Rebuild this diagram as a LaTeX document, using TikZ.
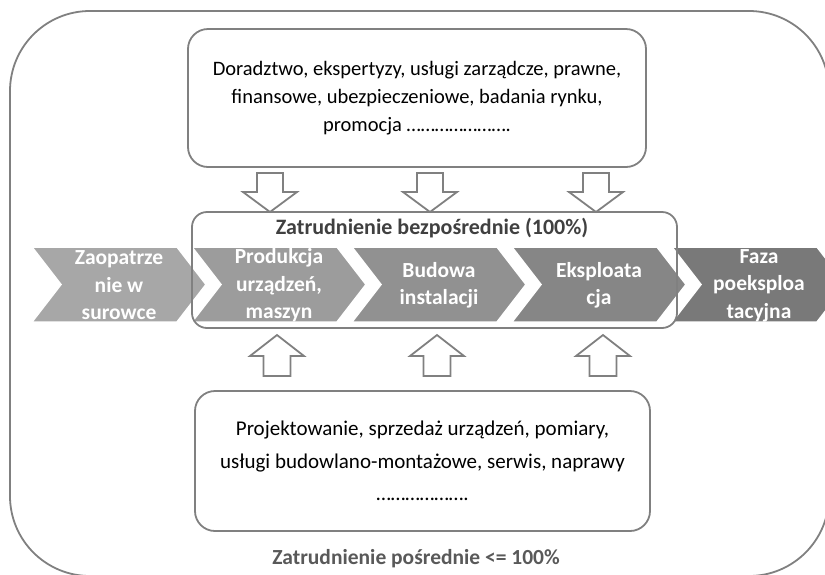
\documentclass[tikz,border=0pt]{standalone}
\usepackage{fontspec}
\setmainfont{Carlito}
\definecolor{linegray}{RGB}{128,128,128}
\definecolor{chevA}{RGB}{167,167,167}
\definecolor{chevB}{RGB}{156,156,156}
\definecolor{chevC}{RGB}{145,145,145}
\definecolor{chevD}{RGB}{134,134,134}
\definecolor{chevE}{RGB}{121,121,121}
\definecolor{labeldark}{RGB}{64,64,64}
\definecolor{labelgray}{RGB}{89,89,89}
\begin{document}
\begin{tikzpicture}[x=1pt, y=-1pt, line width=1.8pt,
    every node/.style={inner sep=0pt, align=center},
    panel/.style={draw=linegray, rounded corners=20pt},
    blockarrow/.style={draw=linegray, fill=white, line join=miter},
    chevtext/.style={text=white, font=\fontsize{21.5}{27.5}\selectfont\bfseries}]
    \useasboundingbox (0,0) rectangle (825,574);
    \clip (0,0) rectangle (825,574);
    % outer frame
    \draw[linegray, rounded corners=80pt] (10,11) rectangle (829,576);
    % top and bottom boxes
    \node[panel, minimum width=458pt, minimum height=138pt, font=\fontsize{20.5}{28}\selectfont] (doradztwo) at (417,98)
        {Doradztwo, ekspertyzy, usługi zarządcze, prawne,\\finansowe, ubezpieczeniowe, badania rynku,\\promocja \dots\dots\dots\dots\dots\dots\dots.};
    \node[panel, minimum width=455pt, minimum height=140pt, font=\fontsize{21}{32.5}\selectfont] (projektowanie) at (422.5,461)
        {Projektowanie, sprzedaż urządzeń, pomiary,\\usługi budowlano-montażowe, serwis, naprawy\\\dots\dots\dots\dots\dots\dots.};
    % chevrons
    \foreach \i/\tone/\txt in {0/chevA/{Zaopatrze\\nie w\\surowce}, 1/chevB/{Produkcja\\urządzeń,\\maszyn},
                               2/chevC/{Budowa\\instalacji}, 3/chevD/{Eksploata\\cja}, 4/chevE/{Faza\\poeksploa\\tacyjna}} {
        \pgfmathsetmacro\xback{32+160*\i}
        \fill[\tone, draw=white, line width=1.5pt] (\xback,247) -- ++(145,0) -- ++(29,37.5) -- ++(-29,37.5) -- ++(-145,0) -- ++(29,-37.5) -- cycle;
        \node[chevtext] (stage\i) at (\xback+87,285.5) {\txt};
    }
    % direct employment box
    \node[panel, rounded corners=15pt, minimum width=485pt, minimum height=116pt] (bezposrednie) at (434.5,270) {};
    \node[text=labeldark, font=\fontsize{22}{26}\selectfont\bfseries] (bezposrednielabel) at (432,228) {Zatrudnienie bezpośrednie (100\%)};
    % block arrows
    \foreach \x in {270,430,596}
        \draw[blockarrow] (\x-13,173) -- ++(26,0) -- ++(0,19) -- ++(14,0) -- (\x,212) -- ++(-27,-20) -- ++(14,0) -- cycle;
    \foreach \x in {277,437,603}
        \draw[blockarrow] (\x-13.5,376) -- ++(27,0) -- ++(0,-20) -- ++(13.5,0) -- (\x,335) -- ++(-27,21) -- ++(13.5,0) -- cycle;
    \node[text=labelgray, font=\fontsize{21.5}{26}\selectfont\bfseries] (posrednie) at (416,559) {Zatrudnienie pośrednie <= 100\%};
\end{tikzpicture}
\end{document}
